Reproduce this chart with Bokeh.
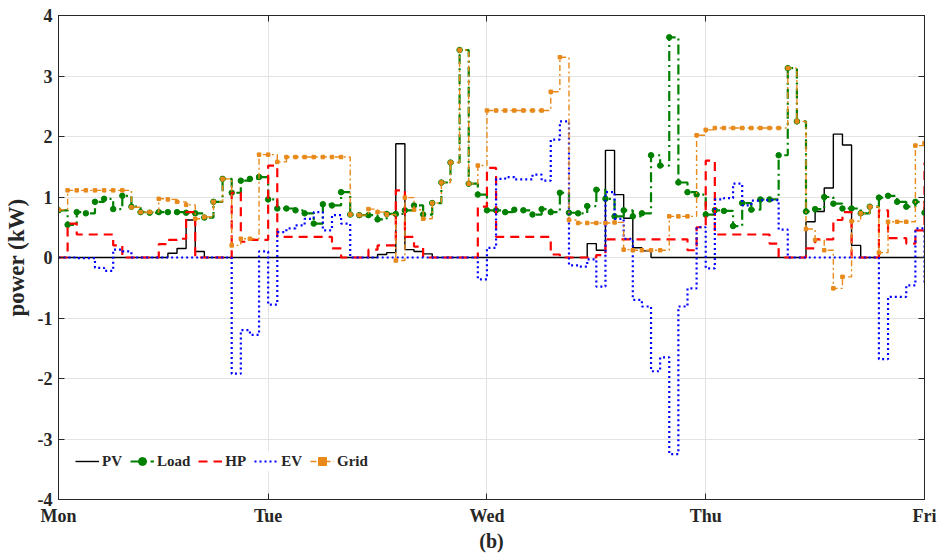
from bokeh.plotting import figure
from bokeh.models import Range1d, FixedTicker, LinearAxis, Legend, LegendItem
from bokeh.embed import file_html
from bokeh.resources import INLINE

hours = list(range(1, 97))
tick_pos = [1, 24, 48, 72, 96]
tick_labels = ["Mon", "Tue", "Wed", "Thu", "Fri"]
ytick_pos = [-4, -3, -2, -1, 0, 1, 2, 3, 4]
ytick_labels = ["-4", "-3", "-2", "-1", "0", "1", "2", "3", "4"]

pv = [0, 0, 0, 0, 0, 0, 0, 0, 0, 0, 0, 0, 0.07, 0.15, 0.62, 0.10, 0, 0, 0, 0, 0, 0, 0, 0,
      0, 0, 0, 0, 0, 0, 0, 0, 0, 0, 0, 0.05, 0.08, 1.88, 0.13, 0.10, 0.06, 0, 0, 0, 0, 0, 0, 0,
      0, 0, 0, 0, 0, 0, 0, 0, 0, 0, 0.23, 0.12, 1.77, 1.04, 0.65, 0.16, 0.11, 0, 0, 0, 0, 0, 0, 0,
      0, 0, 0, 0, 0, 0, 0, 0, 0, 0, 0.59, 0.76, 1.15, 2.04, 1.86, 0.20, 0, 0, 0, 0, 0, 0, 0, 0]

load = [0.78, 0.54, 0.75, 0.73, 0.92, 0.97, 0.80, 1.02, 0.84, 0.75, 0.74, 0.75, 0.75, 0.75, 0.74, 0.73, 0.66, 0.92, 1.30, 1.07, 1.27, 1.30, 1.33, 0.96,
        0.81, 0.81, 0.78, 0.73, 0.56, 0.88, 0.86, 1.08, 0.71, 0.70, 0.70, 0.63, 0.72, 0.72, 0.78, 0.86, 0.71, 0.90, 1.24, 1.57, 3.43, 1.22, 1.04, 0.78,
        0.78, 0.75, 0.79, 0.78, 0.71, 0.80, 0.75, 1.07, 0.74, 0.73, 0.85, 1.12, 0.97, 0.68, 0.78, 0.68, 0.73, 1.69, 1.52, 3.64, 1.24, 1.08, 1.04, 0.71,
        0.78, 0.77, 0.52, 0.90, 0.79, 0.96, 0.96, 1.69, 3.13, 2.25, 0.76, 0.80, 1.00, 0.89, 0.81, 0.81, 0.73, 0.84, 0.99, 1.02, 0.92, 0.84, 0.92, 0.74]

hp = [0, 0.56, 0.38, 0.38, 0.38, 0.38, 0.20, 0, 0, 0, 0, 0.22, 0.29, 0.31, 0.75, 0, 0, 0, 0, 1.07, 0.26, 0.29, 0.29, 1.52,
      0.34, 0.34, 0.34, 0.34, 0.34, 0.34, 0.15, 0, 0, 0, 0.13, 0.20, 0.20, 1.11, 0.34, 0.18, 0, 0, 0, 0, 0, 0, 0.84, 1.48,
      0.34, 0.34, 0.34, 0.34, 0.34, 0.34, 0.05, 0, 0, 0, 0, 0.04, 0.30, 0.30, 0.30, 0.30, 0.30, 0.30, 0.30, 0.30, 0.30, 0.12, 0.50, 1.60,
      0.38, 0.38, 0.38, 0.38, 0.38, 0.38, 0.23, 0, 0, 0, 0.15, 0.30, 0.30, 0.62, 0.75, 0, 0, 0, 0.78, 0.32, 0.32, 0.23, 0.45, 1.57]

ev = [0, 0, -0.01, -0.01, -0.17, -0.22, 0.13, 0.10, 0, 0, 0, 0, 0, 0, 0, 0, 0, 0, 0, -1.92, -1.20, -1.28, 0.10, -0.78,
      0.42, 0.48, 0.53, 0.64, 0.75, 0.45, 0.70, 0.56, 0, 0, 0, 0, 0, 0, 0, 0, 0, 0, 0, 0, 0, 0, -0.36, 0.16,
      1.30, 1.33, 1.29, 1.29, 1.37, 1.27, 1.95, 2.25, -0.13, -0.15, -0.03, -0.48, 1.08, 0.64, 0.31, -0.70, -0.81, -1.88, -1.65, -3.25, -0.81, -0.51, 0.50, -0.18,
      0.96, 0.98, 1.22, 0.86, 0.94, 0.95, 0.95, 0.46, 0, 0, 0, 0, 0, 0, 0, 0, 0, 0, -1.68, -0.65, -0.65, -0.46, 0.48, -0.42]

grid = [0.79, 1.11, 1.11, 1.11, 1.11, 1.11, 1.11, 1.11, 0.83, 0.75, 0.75, 0.97, 0.96, 0.92, 0.87, 0.64, 0.67, 0.92, 1.30, 0.20, 0.31, 0.31, 1.70, 1.70,
        1.58, 1.66, 1.66, 1.66, 1.66, 1.66, 1.66, 1.66, 0.71, 0.70, 0.80, 0.75, 0.71, -0.05, 0.99, 0.79, 0.64, 0.90, 1.24, 1.57, 3.43, 1.22, 1.52, 2.43,
        2.43, 2.43, 2.43, 2.43, 2.43, 2.43, 2.74, 3.31, 0.62, 0.57, 0.57, 0.57, 0.57, 0.58, 0.13, 0.12, 0.12, 0.12, 0.12, 0.68, 0.68, 0.68, 2.02, 2.11,
        2.14, 2.14, 2.14, 2.14, 2.14, 2.14, 2.14, 2.14, 3.13, 2.25, 0.47, 0.29, 0.12, -0.51, -0.32, 0.60, 0.73, 0.84, 0.08, 0.59, 0.59, 0.59, 1.85, 1.89]

FONT = "Liberation Serif"
GREEN = "#008000"
ORANGE = "#E8891A"
INK = "#262626"

p = figure(width=937, height=554, x_range=Range1d(1, 96), y_range=Range1d(-4, 4),
           output_backend="svg", toolbar_location=None,
           min_border_left=57, min_border_right=13, min_border_top=15, min_border_bottom=54)
p.background_fill_color = "white"
p.border_fill_color = "white"
p.outline_line_color = INK

xt = FixedTicker(ticks=tick_pos)
yt = FixedTicker(ticks=ytick_pos)
p.xaxis.ticker = xt
p.xaxis.major_label_overrides = {k: v for k, v in zip(tick_pos, tick_labels)}
p.yaxis.ticker = yt
p.yaxis.major_label_overrides = {k: v for k, v in zip(ytick_pos, ytick_labels)}
for ax in (p.xaxis[0], p.yaxis[0]):
    ax.major_tick_in = 6
    ax.major_tick_out = 0
    ax.minor_tick_line_color = None
    ax.axis_line_color = INK
    ax.major_tick_line_color = INK
    ax.major_label_text_font = FONT
    ax.major_label_text_font_style = "bold"
    ax.major_label_text_font_size = "18px"
    ax.major_label_text_color = INK
    ax.axis_label_text_font = FONT
    ax.axis_label_text_font_style = "bold"
    ax.axis_label_text_color = INK
p.xaxis.axis_label = "(b)"
p.xaxis.axis_label_text_font_size = "20px"
p.xaxis.major_label_standoff = 6
p.xaxis.axis_label_standoff = 1
p.yaxis.axis_label = "power (kW)"
p.yaxis.axis_label_text_font_size = "23px"
p.yaxis.major_label_standoff = 6
p.yaxis.axis_label_standoff = 6

for loc, tk in (("right", yt), ("above", xt)):
    a = LinearAxis(ticker=tk, major_tick_in=6, major_tick_out=0,
                   major_label_text_font_size="1px", major_label_text_color=None,
                   major_label_standoff=0,
                   minor_tick_line_color=None, axis_line_color=INK,
                   major_tick_line_color=INK)
    p.add_layout(a, loc)

p.xgrid.ticker = xt
p.ygrid.ticker = yt
p.xgrid.grid_line_color = "#e3e3e3"
p.ygrid.grid_line_color = "#e3e3e3"

r_pv = p.step(hours, pv, mode="after", line_color="black", line_width=1.4)
r_load = p.step(hours, load, mode="after", line_color=GREEN, line_width=2.2, line_dash="10 4 2 4")
r_load_m = p.scatter(hours, load, marker="circle", size=5.5, fill_color=GREEN, line_color=GREEN)
r_hp = p.step(hours, hp, mode="after", line_color="red", line_width=2.2, line_dash="9 6")
r_ev = p.step(hours, ev, mode="after", line_color="blue", line_width=2.2, line_dash="2 3")
r_grid = p.step(hours, grid, mode="after", line_color=ORANGE, line_width=1.4, line_dash="6 3 2 3")
r_grid_m = p.scatter(hours, grid, marker="square", size=3.5, fill_color=ORANGE, line_color=ORANGE)

legend = Legend(items=[
    LegendItem(label="PV", renderers=[r_pv]),
    LegendItem(label="Load", renderers=[r_load, r_load_m]),
    LegendItem(label="HP", renderers=[r_hp]),
    LegendItem(label="EV", renderers=[r_ev]),
    LegendItem(label="Grid", renderers=[r_grid, r_grid_m]),
], orientation="horizontal", location=(17, 28))
legend.label_text_font = FONT
legend.label_text_font_style = "bold"
legend.label_text_font_size = "15px"
legend.label_text_color = INK
legend.glyph_width = 24
legend.label_standoff = 3
legend.spacing = 8
legend.padding = 4
legend.border_line_color = None
legend.background_fill_alpha = 1.0
p.add_layout(legend)

open("out.html", "w").write(file_html(p, INLINE))
